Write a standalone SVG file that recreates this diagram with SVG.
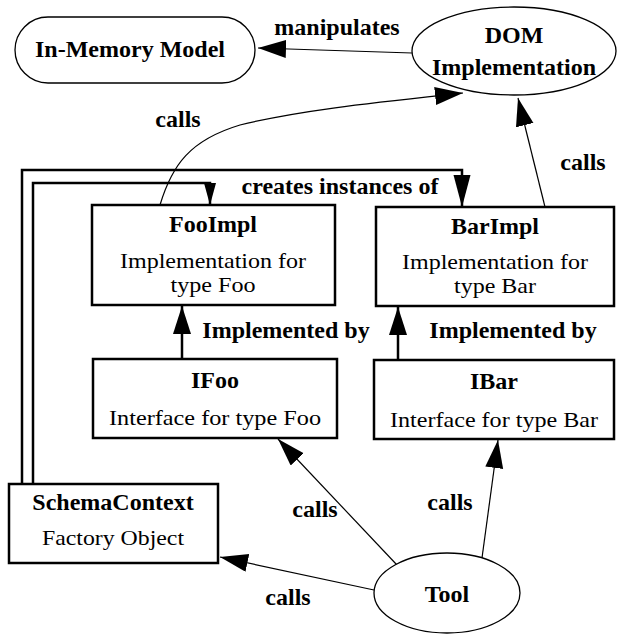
<svg xmlns="http://www.w3.org/2000/svg" width="617" height="634" viewBox="0 0 617 634">
<style>
  text { font-family: "Liberation Serif", "Times New Roman", serif; font-size: 24px; fill: #000; text-anchor: middle; }
  .b { font-weight: bold; }
  .n { font-size: 21px; }
  .box { fill: #fff; stroke: #000; stroke-width: 2.5; }
  .oval { fill: #fff; stroke: #000; stroke-width: 1.3; }
  .thin { fill: none; stroke: #000; stroke-width: 1.2; }
  .thick { fill: none; stroke: #000; stroke-width: 2.5; }
</style>
<defs>
  <marker id="ah" markerUnits="userSpaceOnUse" markerWidth="30" markerHeight="20" refX="28" refY="9" orient="auto">
    <path d="M0,0 L28,9 L0,18 z" fill="#000"/>
  </marker>
  <marker id="ahs" markerUnits="userSpaceOnUse" markerWidth="24" markerHeight="14" refX="22" refY="6" orient="auto">
    <path d="M0,0 L22,6 L0,12 z" fill="#000"/>
  </marker>
  <marker id="ahl" markerUnits="userSpaceOnUse" markerWidth="34" markerHeight="20" refX="32" refY="8.5" orient="auto">
    <path d="M0,0 L32,8.5 L0,17 z" fill="#000"/>
  </marker>
</defs>

<g id="connectors">
  <path class="thin" d="M412,53 L258,48" marker-end="url(#ah)"/>
  <path class="thin" d="M160,205 C172,165 190,140 240,125 C300,110 380,102 463,93" marker-end="url(#ah)"/>
  <path class="thin" d="M545,207 L518,98" marker-end="url(#ah)"/>
  <path class="thick" d="M22,484 L22,170 L462,170 L462,207" marker-end="url(#ahl)"/>
  <path class="thick" d="M33,484 L33,183 L210,183 L210,205" marker-end="url(#ahs)"/>
  <path class="thick" d="M182,359 L182,306" marker-end="url(#ah)"/>
  <path class="thick" d="M398,360 L398,307" marker-end="url(#ah)"/>
  <path class="thin" d="M397,565 L278,439" marker-end="url(#ah)"/>
  <path class="thin" d="M482,558 L498,440" marker-end="url(#ah)"/>
  <path class="thin" d="M374,590 L220,557" marker-end="url(#ah)"/>
  <text class="b" x="337" y="35">manipulates</text>
  <text class="b" x="178" y="127">calls</text>
  <text class="b" x="583" y="170">calls</text>
  <text class="b" x="340" y="194">creates instances of</text>
  <text class="b" x="286" y="338">Implemented by</text>
  <text class="b" x="513" y="338">Implemented by</text>
  <text class="b" x="315" y="517">calls</text>
  <text class="b" x="450" y="510">calls</text>
  <text class="b" x="288" y="605">calls</text>
</g>

<g id="in-memory-model">
  <rect class="oval" x="15" y="17" width="240" height="66" rx="33" ry="33"/>
  <text class="b" x="130" y="57">In-Memory Model</text>
</g>
<g id="dom-implementation">
  <ellipse class="oval" cx="514" cy="51" rx="102" ry="44"/>
  <text class="b" x="514" y="43">DOM</text>
  <text class="b" x="514" y="75">Implementation</text>
</g>
<g id="fooimpl">
  <rect class="box" x="92" y="205" width="243" height="100"/>
  <text class="b" x="213" y="232">FooImpl</text>
  <text class="n" x="213" y="268" textLength="186" lengthAdjust="spacingAndGlyphs">Implementation for</text>
  <text class="n" x="213" y="292" textLength="85" lengthAdjust="spacingAndGlyphs">type Foo</text>
</g>
<g id="barimpl">
  <rect class="box" x="376" y="207" width="238" height="99"/>
  <text class="b" x="495" y="234">BarImpl</text>
  <text class="n" x="495" y="269" textLength="186" lengthAdjust="spacingAndGlyphs">Implementation for</text>
  <text class="n" x="495" y="293" textLength="82" lengthAdjust="spacingAndGlyphs">type Bar</text>
</g>
<g id="ifoo">
  <rect class="box" x="93" y="359" width="244" height="79"/>
  <text class="b" x="215" y="388">IFoo</text>
  <text class="n" x="215" y="425" textLength="212" lengthAdjust="spacingAndGlyphs">Interface for type Foo</text>
</g>
<g id="ibar">
  <rect class="box" x="374" y="360" width="240" height="79"/>
  <text class="b" x="494" y="389">IBar</text>
  <text class="n" x="494" y="427" textLength="208" lengthAdjust="spacingAndGlyphs">Interface for type Bar</text>
</g>
<g id="schemacontext">
  <rect class="box" x="9" y="484" width="209" height="79"/>
  <text class="b" x="113" y="510">SchemaContext</text>
  <text class="n" x="113" y="545" textLength="142" lengthAdjust="spacingAndGlyphs">Factory Object</text>
</g>
<g id="tool">
  <ellipse class="oval" cx="447" cy="593" rx="73" ry="40"/>
  <text class="b" x="447" y="602">Tool</text>
</g>
</svg>
